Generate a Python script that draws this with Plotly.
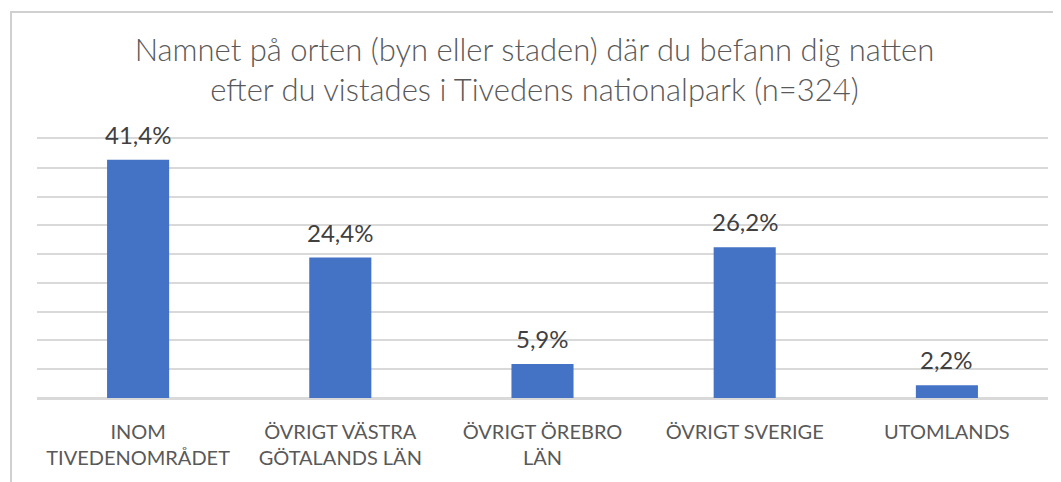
import plotly.graph_objects as go

categories = ["INOM<br>TIVEDENOMRÅDET", "ÖVRIGT VÄSTRA<br>GÖTALANDS LÄN", "ÖVRIGT ÖREBRO<br>LÄN", "ÖVRIGT SVERIGE", "UTOMLANDS"]
values = [41.4, 24.4, 5.9, 26.2, 2.2]
title_lines = ["Namnet på orten (byn eller staden) där du befann dig natten",
               "efter du vistades i Tivedens nationalpark (n=324)"]

# page body has an 8px margin, so the figure is sized/positioned accordingly
W, H = 1053, 474
L, R, T, B = 29, 13, 131, 84
pw = W - L - R
ph = H - T - B

fig = go.Figure()
fig.add_trace(go.Bar(
    x=categories, y=values,
    marker=dict(color="#4472C4", line=dict(width=0)),
    width=0.307,
    hoverinfo="skip",
))
for c, v in zip(categories, values):
    fig.add_annotation(x=c, y=v, text=(f"{v:.1f}%").replace(".", ","),
                       showarrow=False, yanchor="bottom", yshift=9,
                       font=dict(family="Lato", size=24, color="#404040"))

fig.add_shape(type="rect", xref="paper", yref="paper",
              x0=(3 - L) / pw, x1=(W + 20 - L) / pw,
              y0=-(H + 20 - T - ph) / ph, y1=1 + (T - 4) / ph,
              line=dict(color="#d0d0d0", width=2), fillcolor="rgba(0,0,0,0)", layer="below")

fig.update_layout(
    width=W, height=H,
    margin=dict(l=L, r=R, t=T, b=B, autoexpand=False),
    paper_bgcolor="white", plot_bgcolor="white",
    showlegend=False,
    separators=", ",
    title=dict(text="<br>".join(title_lines), x=0.5, xanchor="center",
               y=1 - 53 / H, yanchor="top",
               font=dict(family="Lato", size=31, weight=300, color="#595959")),
    xaxis=dict(showgrid=False, showline=True, mirror=True, linecolor="#d9d9d9", linewidth=1.5,
               ticks="", ticklabelstandoff=15,
               tickfont=dict(family="Lato", size=20, color="#595959")),
    yaxis=dict(range=[0, 45], dtick=5, showgrid=True, gridcolor="#d9d9d9", gridwidth=1.5,
               showticklabels=False, zeroline=True, zerolinecolor="#d9d9d9", zerolinewidth=1.5,
               showline=False),
)

fig.write_html("out.html")
